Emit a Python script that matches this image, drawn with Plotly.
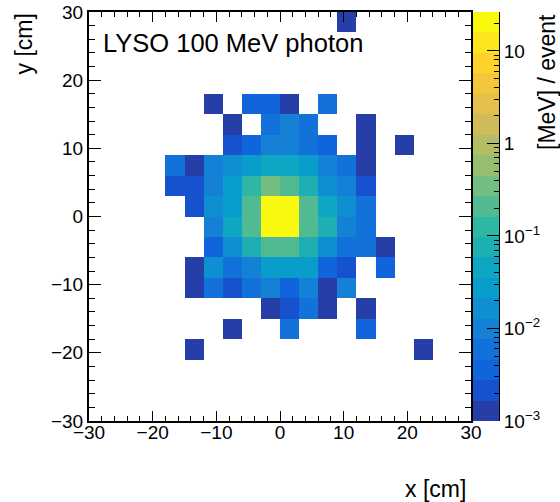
import math
import plotly.graph_objects as go

# 20 x 20 bins of 3 cm covering the calorimeter face
x_edges = [-30, -27, -24, -21, -18, -15, -12, -9, -6, -3, 0, 3, 6, 9, 12, 15, 18, 21, 24, 27, 30]
y_edges = [-30, -27, -24, -21, -18, -15, -12, -9, -6, -3, 0, 3, 6, 9, 12, 15, 18, 21, 24, 27, 30]

# mean energy deposit per bin [MeV / event]; rows run from y = -30 (first) to y = +30 (last), 0 = empty
edep = [
    [0, 0, 0, 0, 0, 0, 0, 0, 0, 0, 0, 0, 0, 0, 0, 0, 0, 0, 0, 0],
    [0, 0, 0, 0, 0, 0, 0, 0, 0, 0, 0, 0, 0, 0, 0, 0, 0, 0, 0, 0],
    [0, 0, 0, 0, 0, 0, 0, 0, 0, 0, 0, 0, 0, 0, 0, 0, 0, 0, 0, 0],
    [0, 0, 0, 0, 0, 0.0013, 0, 0, 0, 0, 0, 0, 0, 0, 0, 0, 0, 0.0012, 0, 0],
    [0, 0, 0, 0, 0, 0, 0, 0.0014, 0, 0, 0.0062, 0, 0, 0, 0.0038, 0, 0, 0, 0, 0],
    [0, 0, 0, 0, 0, 0, 0, 0, 0, 0.0013, 0.0022, 0.0058, 0.0015, 0, 0.0013, 0, 0, 0, 0, 0],
    [0, 0, 0, 0, 0, 0.0014, 0.0068, 0.0024, 0.0061, 0.0092, 0.0041, 0.0087, 0.0015, 0.0095, 0, 0, 0, 0, 0, 0],
    [0, 0, 0, 0, 0, 0.0013, 0.016, 0.0066, 0.011, 0.026, 0.029, 0.025, 0.0039, 0.0023, 0, 0.0037, 0, 0, 0, 0],
    [0, 0, 0, 0, 0, 0, 0.0040, 0.015, 0.072, 0.20, 0.22, 0.078, 0.017, 0.0064, 0.0060, 0.0014, 0, 0, 0, 0],
    [0, 0, 0, 0, 0, 0, 0.0105, 0.044, 0.21, 24.1, 22.7, 0.19, 0.071, 0.0101, 0.0063, 0, 0, 0, 0, 0],
    [0, 0, 0, 0, 0, 0.0021, 0.017, 0.028, 0.22, 26.3, 25.1, 0.21, 0.047, 0.015, 0.0065, 0, 0, 0, 0, 0],
    [0, 0, 0, 0, 0.0022, 0.0020, 0.0098, 0.027, 0.12, 0.33, 0.23, 0.079, 0.018, 0.0097, 0.0021, 0, 0, 0, 0, 0],
    [0, 0, 0, 0, 0.0060, 0.0013, 0.0104, 0.017, 0.026, 0.043, 0.046, 0.030, 0.0094, 0.0057, 0.0014, 0, 0, 0, 0, 0],
    [0, 0, 0, 0, 0, 0, 0, 0.0023, 0.0037, 0.0099, 0.0092, 0.0062, 0.0036, 0, 0.0013, 0, 0.0014, 0, 0, 0],
    [0, 0, 0, 0, 0, 0, 0, 0.0012, 0, 0.0059, 0.0090, 0.0064, 0, 0, 0.0015, 0, 0, 0, 0, 0],
    [0, 0, 0, 0, 0, 0, 0.0013, 0, 0.0038, 0.0042, 0.0014, 0, 0.0068, 0, 0, 0, 0, 0, 0, 0],
    [0, 0, 0, 0, 0, 0, 0, 0, 0, 0, 0, 0, 0, 0, 0, 0, 0, 0, 0, 0],
    [0, 0, 0, 0, 0, 0, 0, 0, 0, 0, 0, 0, 0, 0, 0, 0, 0, 0, 0, 0],
    [0, 0, 0, 0, 0, 0, 0, 0, 0, 0, 0, 0, 0, 0, 0, 0, 0, 0, 0, 0],
    [0, 0, 0, 0, 0, 0, 0, 0, 0, 0, 0, 0, 0, 0.0012, 0, 0, 0, 0, 0, 0],
]

z_min = 1e-3
z_max = max(max(row) for row in edep)

# colour-axis decade labels
cb_tickvals = [-3, -2, -1, 0, 1]
cb_ticktext = ["10<sup>\u22123</sup>", "10<sup>\u22122</sup>", "10<sup>\u22121</sup>", "1", "10"]

# ---- "bird" gradient palette, 255 colours, sampled into 20 contour levels ----
stops = [0.0, 0.125, 0.25, 0.375, 0.5, 0.625, 0.75, 0.875, 1.0]
red = [0.2082, 0.0592, 0.0780, 0.0232, 0.1802, 0.5301, 0.8186, 0.9956, 0.9764]
green = [0.1664, 0.3599, 0.5041, 0.6419, 0.7178, 0.7492, 0.7328, 0.7862, 0.9832]
blue = [0.5293, 0.8684, 0.8385, 0.7914, 0.6425, 0.4662, 0.3499, 0.1968, 0.0539]
n_colors = 255
table = []
for g in range(1, len(stops)):
    n = int(math.floor(n_colors * stops[g])) - int(math.floor(n_colors * stops[g - 1]))
    for c in range(n):
        f = c / n
        table.append((red[g - 1] + f * (red[g] - red[g - 1]),
                      green[g - 1] + f * (green[g] - green[g - 1]),
                      blue[g - 1] + f * (blue[g] - blue[g - 1])))

n_cont = 20
band_colors = []
for k in range(n_cont):
    r, gg, b = table[int((k + 0.99) * n_colors / n_cont)]
    band_colors.append("rgb(%d,%d,%d)" % (round(r * 255), round(gg * 255), round(b * 255)))

colorscale = []
for k, col in enumerate(band_colors):
    colorscale.append([k / n_cont, col])
    colorscale.append([(k + 1) / n_cont, col])

lz_min = math.log10(z_min)
lz_max = math.log10(z_max)
levels = [lz_min + k * (lz_max - lz_min) / n_cont for k in range(n_cont + 1)]
band_mid = [[0.5 * (levels[k] + levels[k + 1])] for k in range(n_cont)]

z_log = [[math.log10(v) if v > 0 else None for v in row] for row in edep]

FONT = "Liberation Sans, Arial, Helvetica, sans-serif"

fig = go.Figure()

# 2D energy map (log colour axis)
fig.add_trace(go.Heatmap(
    x=x_edges, y=y_edges, z=z_log,
    colorscale=colorscale, zmin=lz_min, zmax=lz_max,
    showscale=False, hoverongaps=False,
    xaxis="x", yaxis="y",
))

# colour palette strip drawn as its own axis pair
fig.add_trace(go.Heatmap(
    x=[0, 1], y=levels, z=band_mid,
    colorscale=colorscale, zmin=lz_min, zmax=lz_max,
    showscale=False, hoverinfo="skip",
    xaxis="x2", yaxis="y2",
))

# empty trace that carries the x tick-label axis (sits just above the frame bottom)
fig.add_trace(go.Scatter(x=[], y=[], xaxis="x3", yaxis="y", showlegend=False, hoverinfo="skip"))

W, H = 560, 502
ml, mr, mt, mb = 89, 61, 12, 81
pw = W - ml - mr
ph = H - mt - mb
frame_right = 471
cb_left = 473
xdom = [0, (frame_right - ml) / pw]

axis_common = dict(
    showline=True, linecolor="black", linewidth=2,
    ticks="inside", tickcolor="black", tickwidth=1.2,
    mirror="ticks", showgrid=False, zeroline=False, automargin=False,
    tickfont=dict(family=FONT, size=19, color="black"),
)

fig.update_layout(
    template="none",
    width=W, height=H, autosize=False,
    margin=dict(l=ml, r=mr, t=mt, b=mb, pad=0),
    paper_bgcolor="white", plot_bgcolor="white",
    showlegend=False,
    xaxis=dict(
        domain=xdom, range=[-30, 30],
        tickmode="linear", tick0=0, dtick=10, ticklen=10, showticklabels=False,
        minor=dict(dtick=2, tick0=0, ticklen=5, ticks="inside", tickcolor="black", tickwidth=1.2),
        anchor="y", **axis_common,
    ),
    xaxis3=dict(
        domain=xdom, range=[-30, 30], overlaying="x", anchor="free", position=2 / ph,
        tickmode="linear", tick0=0, dtick=10, ticks="", showline=False,
        showgrid=False, zeroline=False, automargin=False,
        tickfont=dict(family=FONT, size=19, color="black"),
    ),
    yaxis=dict(
        domain=[0, 1], range=[-30, 30],
        tickmode="linear", tick0=0, dtick=10, ticklen=12,
        minor=dict(dtick=2, tick0=0, ticklen=6, ticks="inside", tickcolor="black", tickwidth=1.2),
        anchor="x", **axis_common,
    ),
    xaxis2=dict(
        domain=[(cb_left - ml) / pw, 1], range=[0, 1],
        showticklabels=False, ticks="", showline=False, showgrid=False, zeroline=False,
        anchor="y2", automargin=False,
    ),
    yaxis2=dict(
        domain=[0, 1], range=[lz_min, lz_max], side="right", anchor="x2",
        tickmode="array", tickvals=cb_tickvals, ticktext=cb_ticktext,
        ticks="inside", ticklen=12, tickwidth=1.2, tickcolor="black",
        minor=dict(
            tickmode="array",
            tickvals=[math.log10(m * 10 ** d) for d in range(-3, 2) for m in range(2, 10)
                      if math.log10(m * 10 ** d) < lz_max],
            ticks="inside", ticklen=5, tickwidth=1.2, tickcolor="black",
        ),
        showline=True, linecolor="black", linewidth=1,
        showgrid=False, zeroline=False, automargin=False,
        tickfont=dict(family=FONT, size=19, color="black"),
    ),
)

fig.add_annotation(
    text="LYSO 100 MeV photon", xref="paper", yref="paper",
    x=(101 - ml) / pw, y=(H - mb - 43) / ph, xanchor="left", yanchor="middle",
    showarrow=False, font=dict(family=FONT, size=25.5, color="black"),
)
fig.add_annotation(
    text="x [cm]", xref="paper", yref="paper",
    x=(468 - ml) / pw, y=(H - mb - 489) / ph, xanchor="right", yanchor="middle",
    showarrow=False, font=dict(family=FONT, size=23, color="black"),
)
fig.add_annotation(
    text="y [cm]", xref="paper", yref="paper", textangle=-90,
    x=(23 - ml) / pw, y=1, xanchor="center", yanchor="top",
    showarrow=False, font=dict(family=FONT, size=23, color="black"),
)
fig.add_annotation(
    text="[MeV] / event", xref="paper", yref="paper", textangle=-90,
    x=(547 - ml) / pw, y=1, xanchor="center", yanchor="top",
    showarrow=False, font=dict(family=FONT, size=23, color="black"),
)

fig.write_html("out.html")
